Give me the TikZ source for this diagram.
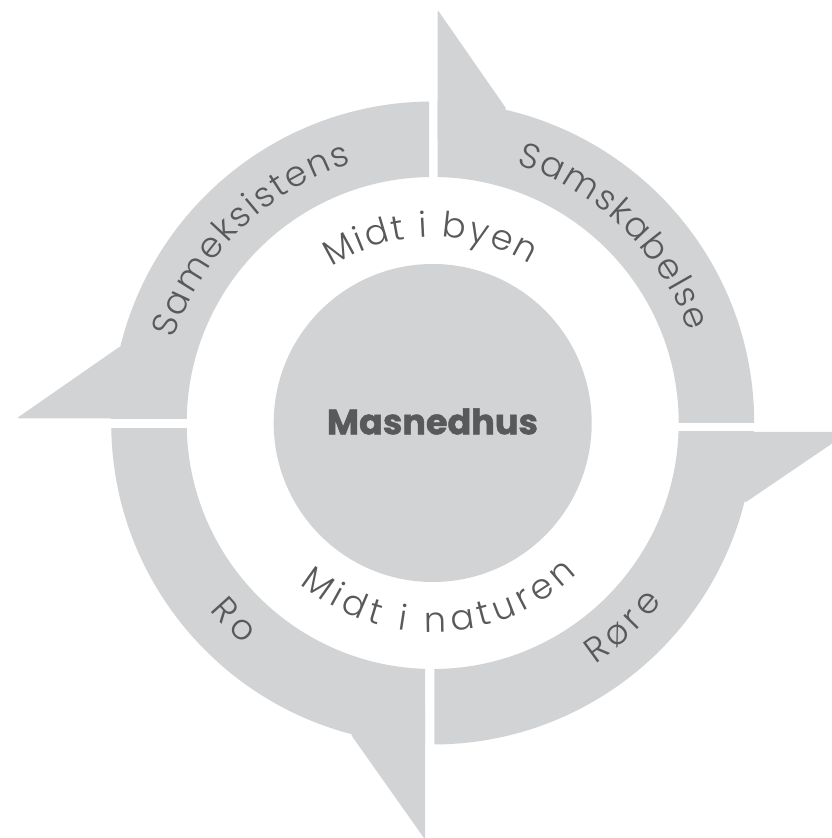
\documentclass[tikz,border=0pt]{standalone}
\usepackage{fontspec}
\setmainfont{Poppins}
\newfontfamily\lightfam{Poppins}[UprightFont={* Light}]
\newfontfamily\heavyfam{Poppins}[UprightFont={* Bold}, UprightFeatures={FakeBold=1.4}]
\usetikzlibrary{calc}

\definecolor{ringgray}{HTML}{D1D3D4}
\definecolor{inkgray}{HTML}{58595B}

\newdimen\rtlen
\newbox\rtbox
\newcommand\lblfont{\lightfam\fontsize{35}{35}\selectfont}
\newcommand\titlefont{\heavyfam\fontsize{35}{35}\selectfont}

% width of one letter, measured outside the picture's font setup
\newcommand\rtmeasure[2]{%
  \pgfinterruptpicture
    \setbox\rtbox=\hbox{#1#2}\global\rtlen=\wd\rtbox
  \endpgfinterruptpicture}

% Set a word letter by letter along a circle around (C).
% #1 name prefix, #2 font, #3 baseline radius, #4 start angle, #5 end angle, #6 letters
\newcommand\ringtext[6]{%
  \xdef\rtW{0}\xdef\rtN{0}%
  \foreach \rtc in {#6}{%
    \rtmeasure{#2}{\rtc}%
    \pgfmathsetmacro\rtT{\rtW+\rtlen}\xdef\rtW{\rtT}%
    \pgfmathtruncatemacro\rtM{\rtN+1}\xdef\rtN{\rtM}%
  }%
  \pgfmathsetmacro\rtD{sign(#5-#4)}%
  \pgfmathsetmacro\rtTr{(abs(#5-#4)*pi/180*#3-\rtW)/(\rtN-1)}%
  \xdef\rtS{0}%
  \foreach \rtc [count=\rti] in {#6}{%
    \rtmeasure{#2}{\rtc}%
    \pgfmathsetmacro\rtw{\rtlen}%
    \pgfmathsetmacro\rta{#4+\rtD*(\rtS+\rtw/2)/#3*180/pi}%
    \node[lbl, font=#2, rotate=\rta+\rtD*90] (#1\rti) at ($(C)+(\rta:#3)$) {\rtc};
    \pgfmathsetmacro\rtT{\rtS+\rtw+\rtTr}\xdef\rtS{\rtT}%
  }%
}

\begin{document}
\begin{tikzpicture}[x=1pt,y=1pt,
  segment/.style={fill=ringgray},
  lbl/.style={text=inkgray, inner sep=0pt, anchor=base}]
\useasboundingbox (0,0) rectangle (831,838);
\coordinate (C) at (432.7,415);

% Sameksistens (upper left), barb pointing left
\begin{scope}
  \clip (0,419.7) rectangle (429,838);
  \fill[segment, even odd rule] (C) circle[radius=321.5] (C) circle[radius=246];
  \fill[segment, rounded corners=2pt] (16.7,419.7) -- (120.7,492) -- (150,419.7) -- cycle;
\end{scope}

% Samskabelse (upper right), barb pointing up
\begin{scope}
  \clip (437.7,415.3) rectangle (831,838);
  \fill[segment, even odd rule] (C) circle[radius=321.5] (C) circle[radius=246];
  \fill[segment, rounded corners=2pt] (437.7,828) -- (506.7,728.7) -- (437.7,698) -- cycle;
\end{scope}

% Rore (lower right), barb pointing right
\begin{scope}
  \clip (434.3,406) rectangle (900,0);
  \fill[segment, even odd rule] (C) circle[radius=321.5] (C) circle[radius=246];
  \fill[segment, rounded corners=2pt] (849,406) -- (745,335.3) -- (700,406) -- cycle;
\end{scope}

% Ro (lower left), barb pointing down
\begin{scope}
  \clip (0,409.7) rectangle (425,-20);
  \fill[segment, even odd rule] (C) circle[radius=321.5] (C) circle[radius=246];
  \fill[segment, rounded corners=2pt] (425,-1.5) -- (350.7,103.7) -- (425,132) -- cycle;
\end{scope}

% centre disc
\fill[segment] (C) circle[radius=159];
\node[lbl, font=\titlefont] (title) at (432.5,403.7) {Masnedhus};

% labels between disc and ring
\ringtext{by}{\lblfont}{186}{123}{58.5}{M,i,d,t,~,i,~,b,y,e,n}
\ringtext{na}{\lblfont}{209}{230.5}{313.8}{M,i,d,t,~,i,~,n,a,t,u,r,e,n}

% labels on the ring
\ringtext{sk}{\lblfont}{272}{162}{107.3}{S,a,m,e,k,s,i,s,t,e,n,s}
\ringtext{sb}{\lblfont}{272}{72}{19.7}{S,a,m,s,k,a,b,e,l,s,e}
\ringtext{rr}{\lblfont}{291}{304}{322}{R,ø,r,e}
\ringtext{ro}{\lblfont}{291}{220}{229.5}{R,o}
\end{tikzpicture}
\end{document}
